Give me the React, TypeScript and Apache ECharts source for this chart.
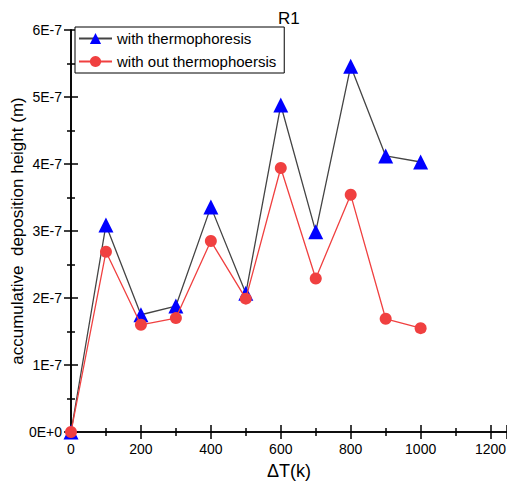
import React, { useEffect, useRef } from "react";
import * as echarts from "echarts";

const xValues = [0, 100, 200, 300, 400, 500, 600, 700, 800, 900, 1000];
const withThermo = [0, 3.09e-7, 1.75e-7, 1.88e-7, 3.36e-7, 2.07e-7, 4.88e-7, 2.99e-7, 5.46e-7, 4.12e-7, 4.03e-7];
const withoutThermo = [0, 2.69e-7, 1.6e-7, 1.7e-7, 2.85e-7, 1.99e-7, 3.94e-7, 2.29e-7, 3.54e-7, 1.69e-7, 1.55e-7];
const seriesNames = ["with thermophoresis", "with out thermophoersis"];

const FONT = "Liberation Sans, Arial, sans-serif";

const fmtY = (v: number) => {
  const n = Math.round(v * 1e7);
  return n === 0 ? "0E+0" : `${n}E-7`;
};

export default function App() {
  const ref = useRef<HTMLDivElement>(null);
  useEffect(() => {
    if (!ref.current) return;
    const chart = echarts.init(ref.current, undefined, { renderer: "svg" });
    const axisLine = { show: true, lineStyle: { color: "#000", width: 1.6 } };
    const tick = { show: true, inside: true, length: 7, lineStyle: { color: "#000", width: 1.5 } };
    const minor = { show: true, splitNumber: 2, length: 4, lineStyle: { color: "#000", width: 1.5 } };
    const xMax = 1247;
    chart.setOption({
      animation: false,
      backgroundColor: "#fff",
      title: {
        text: "R1",
        left: 273,
        top: 5,
        textStyle: { fontFamily: FONT, fontSize: 17, fontWeight: "normal", color: "#000" },
      },
      legend: {
        orient: "vertical",
        left: 75,
        top: 27,
        padding: [4, 8, 4, 3],
        itemWidth: 33,
        itemHeight: 14,
        itemGap: 8,
        borderColor: "#000",
        borderWidth: 1,
        backgroundColor: "#fff",
        textStyle: { fontFamily: FONT, fontSize: 15, color: "#000" },
        data: seriesNames,
        z: 10,
      },
      grid: { left: 71, top: 30, width: 436, height: 402, containLabel: false, outerBoundsMode: "none" },
      xAxis: [
        {
          type: "value",
          min: 0,
          max: xMax,
          interval: 200,
          name: "\u0394T(k)",
          nameLocation: "middle",
          nameGap: 30,
          nameMoveOverlap: false,
          nameTextStyle: { fontFamily: FONT, fontSize: 18, color: "#000" },
          axisLine,
          axisTick: tick,
          minorTick: minor,
          axisLabel: {
            fontFamily: FONT,
            fontSize: 14,
            color: "#000",
            margin: 10,
            showMaxLabel: false,
            formatter: (v: number) => (v % 200 === 0 ? String(v) : ""),
          },
          splitLine: { show: false },
        },
        {
          type: "value",
          position: "top",
          min: 0,
          max: xMax,
          interval: 200,
          axisLine,
          axisTick: tick,
          minorTick: minor,
          axisLabel: { show: false },
          splitLine: { show: false },
        },
      ],
      yAxis: [
        {
          type: "value",
          min: 0,
          max: 6e-7,
          interval: 1e-7,
          name: "accumulative  deposition height (m)",
          nameLocation: "middle",
          nameGap: 45,
          nameMoveOverlap: false,
          nameTextStyle: { fontFamily: FONT, fontSize: 17, color: "#000" },
          axisLine,
          axisTick: tick,
          minorTick: minor,
          axisLabel: { fontFamily: FONT, fontSize: 14, color: "#000", margin: 9, formatter: fmtY },
          splitLine: { show: false },
        },
        {
          type: "value",
          position: "right",
          min: 0,
          max: 6e-7,
          interval: 1e-7,
          axisLine,
          axisTick: tick,
          minorTick: minor,
          axisLabel: { show: false },
          splitLine: { show: false },
        },
      ],
      series: [
        {
          name: seriesNames[0],
          type: "line",
          data: xValues.map((x, i) => [x, withThermo[i]]),
          symbol: "triangle",
          symbolSize: 15,
          itemStyle: { color: "#0000ff" },
          lineStyle: { color: "#444", width: 1.3 },
          clip: true,
          z: 2,
        },
        {
          name: seriesNames[1],
          type: "line",
          data: xValues.map((x, i) => [x, withoutThermo[i]]),
          symbol: "circle",
          symbolSize: 12,
          itemStyle: { color: "#f04040" },
          lineStyle: { color: "#f04040", width: 1.3 },
          clip: true,
          z: 3,
        },
      ],
    });
    return () => chart.dispose();
  }, []);
  return <div ref={ref} style={{ width: 507, height: 493, position: "absolute", left: 0, top: 0 }} />;
}
